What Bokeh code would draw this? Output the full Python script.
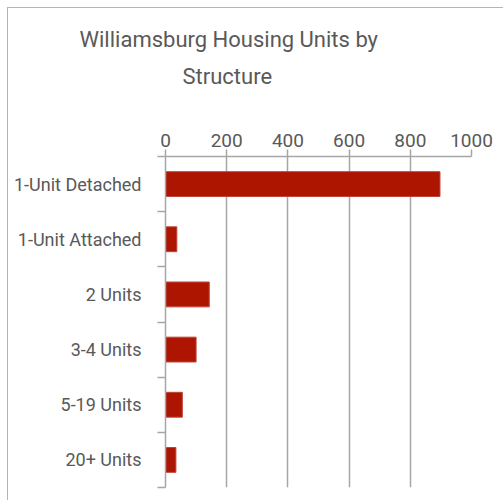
from bokeh.plotting import figure
from bokeh.models import Range1d, FixedTicker, Title
from bokeh.embed import file_html
from bokeh.resources import INLINE

# ---- data ----
categories = ["1-Unit Detached", "1-Unit Attached", "2 Units", "3-4 Units", "5-19 Units", "20+ Units"]
units = [897, 37, 143, 100, 55, 34]
x_ticks = [0, 200, 400, 600, 800, 1000]
title_lines = ["Williamsburg Housing Units by", "Structure"]

FONT = "Roboto"
TXT = "#595959"
GRID = "#a6a6a6"

n = len(categories)
centers = [i + 0.5 for i in range(n)]
bounds = [float(i) for i in range(n + 1)]

p = figure(width=496, height=493, output_backend="svg", toolbar_location=None,
           x_range=Range1d(0, 1000), y_range=Range1d(n, 0),
           x_axis_location="above",
           min_border_left=157, min_border_top=148, min_border_right=33, min_border_bottom=14)
p.styles = {"margin-left": "8px", "margin-top": "8px",
            "box-shadow": "-1px -1px 0px 0px #b4b4b4"}
p.outline_line_color = None
p.background_fill_color = "white"
p.border_fill_color = "white"

p.hbar(y=centers, right=units, left=0, height=0.45,
       fill_color="#ad1500", line_color="#c0443a", line_width=1)

# x axis (top)
xa = p.xaxis[0]
xa.ticker = FixedTicker(ticks=x_ticks, minor_ticks=[])
xa.major_tick_out = 7
xa.major_tick_in = 0
xa.axis_line_color = GRID
xa.axis_line_width = 1.5
xa.major_tick_line_color = GRID
xa.major_tick_line_width = 1.5
xa.major_label_text_font = FONT
xa.major_label_text_font_size = "19px"
xa.major_label_text_color = TXT
xa.major_label_standoff = 3

# y axis (left)
ya = p.yaxis[0]
ya.ticker = FixedTicker(ticks=centers, minor_ticks=bounds)
ya.major_label_overrides = {c: lab for c, lab in zip(centers, categories)}
ya.major_tick_out = 0
ya.major_tick_in = 0
ya.minor_tick_out = 8
ya.minor_tick_in = 0
ya.minor_tick_line_color = GRID
ya.minor_tick_line_width = 1.5
ya.axis_line_color = GRID
ya.axis_line_width = 1.5
ya.major_label_text_font = FONT
ya.major_label_text_font_size = "18px"
ya.major_label_text_color = TXT
ya.major_label_standoff = 16

p.xgrid.ticker = FixedTicker(ticks=x_ticks[1:])
p.xgrid.grid_line_color = GRID
p.xgrid.grid_line_width = 1.5
p.ygrid.grid_line_color = None

# title: two lines, each its own Title (added bottom-up)
p.add_layout(Title(text=title_lines[1], align="left", offset=17, standoff=83,
                   text_font=FONT, text_font_size="22px", text_color=TXT,
                   text_font_style="normal"), "above")
p.add_layout(Title(text=title_lines[0], align="left", offset=-86, standoff=-62,
                   text_font=FONT, text_font_size="22px", text_color=TXT,
                   text_font_style="normal"), "above")

open("out.html", "w").write(file_html(p, INLINE))
